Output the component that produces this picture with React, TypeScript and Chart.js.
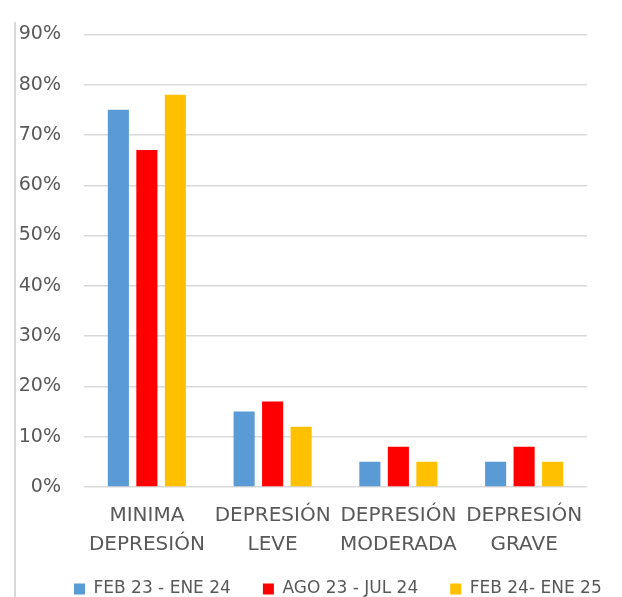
import React, { useEffect, useRef } from "react";
import { Chart, registerables } from "chart.js";

Chart.register(...registerables);

const categories: string[][] = [
  ["MINIMA", "DEPRESIÓN"],
  ["DEPRESIÓN", "LEVE"],
  ["DEPRESIÓN", "MODERADA"],
  ["DEPRESIÓN", "GRAVE"],
];
const seriesLabels = ["FEB 23 - ENE 24", "AGO 23 - JUL 24", "FEB 24- ENE 25"];
const seriesFeb23Ene24 = [75, 15, 5, 5];
const seriesAgo23Jul24 = [67, 17, 8, 8];
const seriesFeb24Ene25 = [78, 12, 5, 5];
const seriesColors = ["#5B9BD5", "#FF0000", "#FFC000"];
const yMax = 90;
const yStep = 10;

const W = 622;
const H = 597;
const AREA_LEFT = 84;
const AREA_RIGHT = 587;
const AREA_TOP = 31;
const AREA_BOTTOM = 487;
const LEGEND_PAD = 32;
const LEGEND_FONT = 17;
const LEGEND_START_X = 74;
const LEGEND_TEXT_Y = 589;

const layoutPlacer = {
  id: "layoutPlacer",
  afterLayout(chart: any) {
    const lg = chart.legend;
    if (lg) {
      const w = lg.right - lg.left;
      const h = lg.bottom - lg.top;
      lg.left = LEGEND_START_X - LEGEND_PAD;
      lg.right = lg.left + w;
      lg.top = LEGEND_TEXT_Y - LEGEND_PAD - LEGEND_FONT / 2;
      lg.bottom = lg.top + h;
    }
    const xs = chart.scales.x;
    if (xs) {
      xs.bottom = chart.height;
      xs.height = xs.bottom - xs.top;
    }
  },
};

export default function App() {
  const ref = useRef<HTMLCanvasElement | null>(null);

  useEffect(() => {
    document.body.style.margin = "0";
    if (!ref.current) return;
    const font = "'DejaVu Sans', sans-serif";
    const chart = new Chart(ref.current, {
      type: "bar",
      data: {
        labels: categories,
        datasets: [
          { label: seriesLabels[0], data: seriesFeb23Ene24, backgroundColor: seriesColors[0] },
          { label: seriesLabels[1], data: seriesAgo23Jul24, backgroundColor: seriesColors[1] },
          { label: seriesLabels[2], data: seriesFeb24Ene25, backgroundColor: seriesColors[2] },
        ],
      },
      options: {
        animation: false,
        responsive: false,
        devicePixelRatio: 1,
        layout: { padding: { top: AREA_TOP, left: 0, right: 0, bottom: 0 } },
        datasets: {
          bar: { categoryPercentage: 0.68, barPercentage: 0.74, borderWidth: 0 },
        },
        plugins: {
          title: { display: false },
          tooltip: { enabled: false },
          legend: {
            display: true,
            position: "bottom",
            align: "start",
            labels: {
              boxWidth: 11,
              boxHeight: 11,
              padding: LEGEND_PAD,
              color: "#595959",
              font: { family: font, size: LEGEND_FONT },
            },
          },
        },
        scales: {
          x: {
            grid: { display: false, drawTicks: false },
            border: { display: false },
            ticks: {
              color: "#595959",
              font: { family: font, size: 20, lineHeight: 1.46 },
              padding: 14,
              autoSkip: false,
              maxRotation: 0,
              minRotation: 0,
            },
            afterFit: (s: any) => {
              const lh = s.chart.legend ? s.chart.legend.height : 0;
              s.height = s.chart.height - AREA_BOTTOM - lh;
            },
          },
          y: {
            min: 0,
            max: yMax,
            ticks: {
              stepSize: yStep,
              color: "#595959",
              font: { family: font, size: 19 },
              padding: 23,
              callback: (v: any) => `${v}%`,
            },
            grid: { color: "#D9D9D9", lineWidth: 1.5, drawTicks: false },
            border: { display: false },
            afterFit: (s: any) => {
              s.width = AREA_LEFT;
            },
          },
          yRight: {
            type: "linear",
            position: "right",
            display: true,
            grid: { display: false, drawTicks: false },
            border: { display: false },
            ticks: { display: false },
            afterFit: (s: any) => {
              s.width = W - AREA_RIGHT;
            },
          },
        },
      },
      plugins: [layoutPlacer],
    } as any);
    return () => chart.destroy();
  }, []);

  return (
    <div style={{ position: "relative", width: W, height: H, background: "#fff", overflow: "hidden" }}>
      <canvas ref={ref} width={W} height={H} style={{ width: W, height: H, display: "block" }} />
      <div
        style={{
          position: "absolute",
          left: 14,
          top: 22,
          bottom: 0,
          width: 1.5,
          background: "#D9D9D9",
        }}
      />
    </div>
  );
}
